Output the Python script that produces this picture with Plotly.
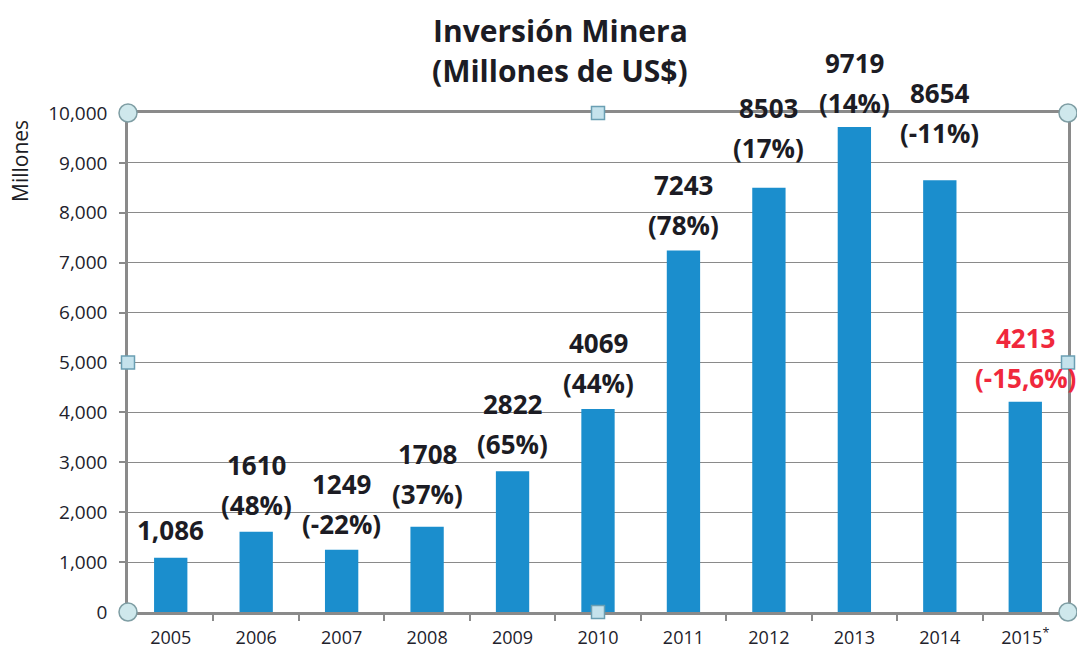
import plotly.graph_objects as go

# ---- data ----
years = ["2005", "2006", "2007", "2008", "2009", "2010", "2011", "2012", "2013", "2014", "2015*"]
year_ticktext = ["2005", "2006", "2007", "2008", "2009", "2010", "2011", "2012", "2013", "2014", "2015<sup>*</sup>"]
investment = [1086, 1610, 1249, 1708, 2822, 4069, 7243, 8503, 9719, 8654, 4213]
value_labels = ["1,086", "1610", "1249", "1708", "2822", "4069", "7243", "8503", "9719", "8654", "4213"]
change_labels = ["", "(48%)", "(-22%)", "(37%)", "(65%)", "(44%)", "(78%)", "(17%)", "(14%)", "(-11%)", "(-15,6%)"]
y_tickvals = [0, 1000, 2000, 3000, 4000, 5000, 6000, 7000, 8000, 9000, 10000]

# ---- styling (label lift above bar top, in px) ----
label_lift = {"2005": 28, "2006": 27, "2007": 26, "2008": 33, "2009": 27, "2010": 26,
              "2011": 26, "2012": 40, "2013": 24, "2014": 47, "2015*": 24}
line_gap = 40
dark = "#1c1c24"
red = "#f0283c"
bar_color = "#1b8ecd"
axis_gray = "#8a8a8a"
label_font = dict(family="Open Sans", size=26, color=dark)

fig = go.Figure()
fig.add_trace(go.Bar(
    x=years, y=investment,
    marker=dict(color=bar_color, line=dict(width=0)),
    width=0.39, hoverinfo="x+y",
))

annotations = []
for i, (yr, v, vl, cl) in enumerate(zip(years, investment, value_labels, change_labels)):
    col = red if yr.startswith("2015") else dark
    lift = label_lift[yr]
    if cl:
        annotations.append(dict(x=i, y=v, xref="x", yref="y", text="<b>%s</b>" % cl,
                                showarrow=False, yanchor="middle", yshift=lift,
                                font=dict(label_font, color=col)))
        annotations.append(dict(x=i, y=v, xref="x", yref="y", text="<b>%s</b>" % vl,
                                showarrow=False, yanchor="middle", yshift=lift + line_gap,
                                font=dict(label_font, color=col)))
    else:
        annotations.append(dict(x=i, y=v, xref="x", yref="y", text="<b>%s</b>" % vl,
                                showarrow=False, yanchor="middle", yshift=lift,
                                font=dict(label_font, color=col)))

# title
annotations.append(dict(x=0.4596, y=1.166, xref="paper", yref="paper", showarrow=False,
                        text="<b>Inversión Minera</b>", xanchor="center", yanchor="middle",
                        font=dict(family="Open Sans", size=30, color=dark)))
annotations.append(dict(x=0.4596, y=1.086, xref="paper", yref="paper", showarrow=False,
                        text="<b>(Millones de US$)</b>", xanchor="center", yanchor="middle",
                        font=dict(family="Open Sans", size=30, color=dark)))
# y-axis title
annotations.append(dict(x=(20 - 128) / 940, y=(612 - 161) / 499, xref="paper", yref="paper",
                        showarrow=False, text="Millones", textangle=-90,
                        xanchor="center", yanchor="middle",
                        font=dict(family="Open Sans", size=21, color=dark)))

# selection handles on plot-area border
shapes = []
for (px, py) in [(0, 0), (0, 1), (1, 0), (1, 1)]:
    shapes.append(dict(type="circle", xref="paper", yref="paper",
                       xsizemode="pixel", ysizemode="pixel", xanchor=px, yanchor=py,
                       x0=-9, x1=9, y0=-9, y1=9,
                       fillcolor="#cfe8ec", line=dict(color="#7f9ea4", width=1.5)))
for (px, py) in [(0.5, 0), (0.5, 1), (0, 0.5), (1, 0.5)]:
    shapes.append(dict(type="rect", xref="paper", yref="paper",
                       xsizemode="pixel", ysizemode="pixel", xanchor=px, yanchor=py,
                       x0=-6.5, x1=6.5, y0=-6.5, y1=6.5,
                       fillcolor="#c4e2ec", line=dict(color="#6a9fb3", width=1.5)))

fig.update_layout(
    width=1077, height=651,
    margin=dict(l=128, r=9, t=113, b=39, autoexpand=False),
    paper_bgcolor="white", plot_bgcolor="white",
    showlegend=False,
    bargap=0.61,
    annotations=annotations,
    shapes=shapes,
    font=dict(family="Open Sans", color="#333333"),
)
fig.update_xaxes(
    type="category", tickvals=years, ticktext=year_ticktext,
    range=[-0.5, len(years) - 0.5], automargin=False,
    showline=True, linecolor=axis_gray, linewidth=2.5, mirror=True,
    ticks="outside", tickson="boundaries", ticklen=6, tickcolor=axis_gray, tickwidth=1.5,
    tickfont=dict(family="Open Sans", size=18, color="#22222c"),
    ticklabelstandoff=8,
    showgrid=False,
)
fig.update_yaxes(
    range=[0, 10000], tickvals=y_tickvals, tickformat=",", automargin=False,
    showline=True, linecolor=axis_gray, linewidth=2.5, mirror=True,
    ticks="outside", ticklen=6, tickcolor=axis_gray, tickwidth=1.5,
    showgrid=True, gridcolor=axis_gray, gridwidth=1.3,
    tickfont=dict(family="Open Sans", size=19, color="#22222c"),
    ticklabelstandoff=8,
    zeroline=False,
)

fig.write_html("out.html", config={"displayModeBar": False},
               post_script="document.body.style.margin='0';")
